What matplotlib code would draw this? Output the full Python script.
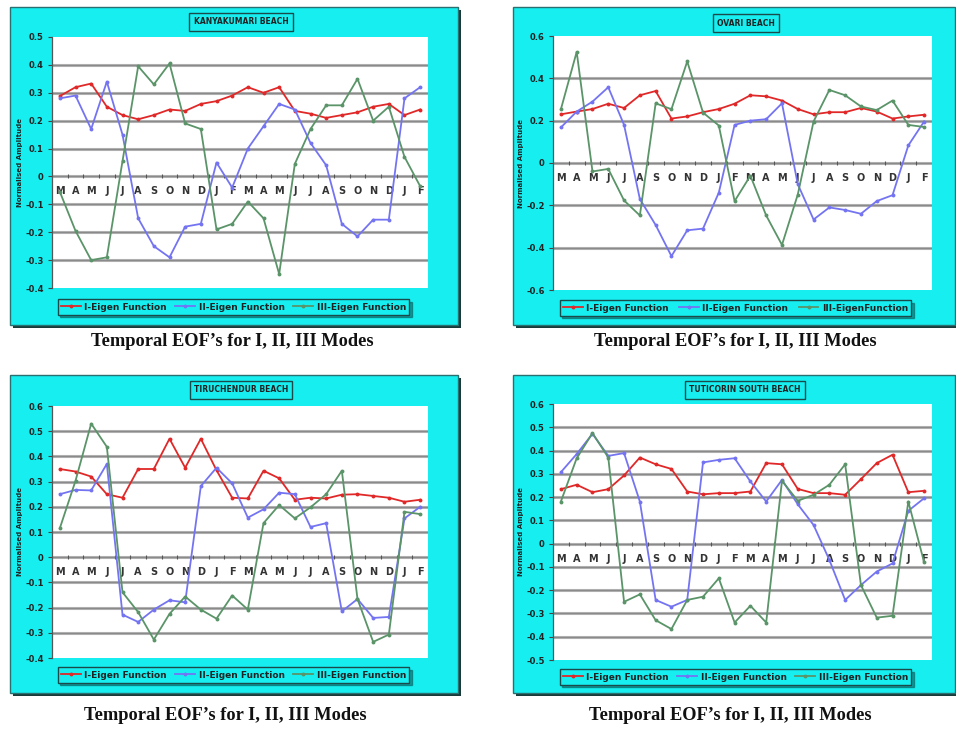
import matplotlib
matplotlib.use('Agg')
import matplotlib.pyplot as plt
from matplotlib.patches import Rectangle
import matplotlib.transforms as mtransforms
import numpy as np

W, H = 956, 729

months = ['M', 'A', 'M', 'J', 'J', 'A', 'S', 'O', 'N', 'D', 'J', 'F'] * 2

titles = ['KANYAKUMARI BEACH', 'OVARI BEACH', 'TIRUCHENDUR BEACH', 'TUTICORIN SOUTH BEACH']
legend_labels = [
    ['I-Eigen Function', 'II-Eigen Function', 'III-Eigen Function'],
    ['I-Eigen Function', 'II-Eigen Function', 'III-EigenFunction'],
    ['I-Eigen Function', 'II-Eigen Function', 'III-Eigen Function'],
    ['I-Eigen Function', 'II-Eigen Function', 'III-Eigen Function'],
]
caption = 'Temporal EOF\u2019s for I, II, III Modes'

# Kanyakumari beach
kany_I = [0.288, 0.32, 0.333, 0.25, 0.22, 0.205, 0.22, 0.24, 0.235, 0.26, 0.27, 0.29,
          0.32, 0.30, 0.32, 0.235, 0.225, 0.21, 0.22, 0.23, 0.25, 0.26, 0.22, 0.24]
kany_II = [0.28, 0.29, 0.17, 0.34, 0.15, -0.15, -0.25, -0.29, -0.18, -0.17, 0.05, -0.04,
           0.10, 0.18, 0.26, 0.24, 0.12, 0.04, -0.17, -0.215, -0.155, -0.155, 0.28, 0.32]
kany_III = [-0.055, -0.195, -0.30, -0.29, 0.055, 0.395, 0.33, 0.405, 0.19, 0.17, -0.19, -0.17,
            -0.09, -0.15, -0.35, 0.045, 0.17, 0.255, 0.255, 0.35, 0.20, 0.25, 0.07, -0.035]

# Ovari beach
ovari_I = [0.23, 0.243, 0.255, 0.28, 0.26, 0.32, 0.34, 0.21, 0.22, 0.24, 0.255, 0.28,
           0.32, 0.315, 0.295, 0.255, 0.23, 0.24, 0.24, 0.26, 0.243, 0.21, 0.22, 0.228]
ovari_II = [0.168, 0.243, 0.29, 0.358, 0.18, -0.17, -0.293, -0.44, -0.318, -0.31, -0.14, 0.18,
            0.20, 0.207, 0.282, -0.10, -0.267, -0.21, -0.222, -0.24, -0.18, -0.152, 0.083, 0.196]
ovari_III = [0.254, 0.525, -0.04, -0.028, -0.177, -0.248, 0.282, 0.254, 0.48, 0.238, 0.177, -0.18,
             -0.06, -0.248, -0.387, -0.149, 0.196, 0.345, 0.32, 0.267, 0.25, 0.295, 0.18, 0.17]

# Tiruchendur beach
tiru_I = [0.35, 0.34, 0.32, 0.25, 0.236, 0.35, 0.35, 0.47, 0.355, 0.47, 0.345, 0.236,
          0.233, 0.343, 0.313, 0.228, 0.236, 0.233, 0.248, 0.25, 0.243, 0.236, 0.22, 0.228]
tiru_II = [0.25, 0.267, 0.265, 0.37, -0.228, -0.257, -0.208, -0.171, -0.179, 0.282, 0.355, 0.293,
           0.157, 0.19, 0.256, 0.25, 0.12, 0.135, -0.215, -0.166, -0.241, -0.237, 0.154, 0.20]
tiru_III = [0.115, 0.303, 0.53, 0.438, -0.139, -0.218, -0.327, -0.225, -0.156, -0.208, -0.244, -0.152,
            -0.208, 0.135, 0.207, 0.154, 0.198, 0.25, 0.343, -0.166, -0.336, -0.307, 0.18, 0.171]

# Tuticorin south beach
tuti_I = [0.234, 0.253, 0.221, 0.234, 0.293, 0.37, 0.341, 0.321, 0.224, 0.212, 0.217, 0.217,
          0.224, 0.346, 0.341, 0.235, 0.217, 0.217, 0.21, 0.277, 0.346, 0.382, 0.221, 0.227]
tuti_II = [0.307, 0.385, 0.472, 0.377, 0.389, 0.181, -0.242, -0.271, -0.242, 0.349, 0.36, 0.367,
           0.267, 0.181, 0.274, 0.169, 0.08, -0.07, -0.242, -0.178, -0.12, -0.085, 0.141, 0.195]
tuti_III = [0.181, 0.367, 0.475, 0.37, -0.25, -0.218, -0.329, -0.367, -0.242, -0.228, -0.149, -0.339,
            -0.267, -0.339, 0.27, 0.184, 0.21, 0.253, 0.341, -0.178, -0.318, -0.31, 0.181, -0.08]

series = [
    (kany_I, kany_II, kany_III),
    (ovari_I, ovari_II, ovari_III),
    (tiru_I, tiru_II, tiru_III),
    (tuti_I, tuti_II, tuti_III),
]
ylims = [(-0.4, 0.5, 0.1), (-0.6, 0.6, 0.2), (-0.4, 0.6, 0.1), (-0.5, 0.6, 0.1)]

# layout in pixels (x0, y0, x1, y1), y from top
frames = [(10, 7, 458, 325), (513, 7, 955, 325), (10, 375, 458, 693), (513, 375, 955, 693)]
plots = [(52, 37, 428, 288), (553, 36, 932, 290), (52, 406, 428, 658), (553, 404, 932, 660)]
tboxes = [(241, 22), (746, 23), (241, 390), (745, 390)]
legends = [(53, 298, 414, 316), (555, 299, 916, 317), (53, 666, 414, 684), (555, 668, 916, 686)]
captions = [(232, 341), (735, 341), (225, 716), (730, 716)]
ylab_x = [20, 521, 20, 521]

CYAN = '#16EEF0'
RED = '#E02828'
BLUE = '#7474F2'
GREEN = '#5A9468'
colors = [RED, BLUE, GREEN]


def frect(x0, y0, x1, y1):
    return [x0 / W, 1 - y1 / H, (x1 - x0) / W, (y1 - y0) / H]


fig = plt.figure(figsize=(W / 100, H / 100), dpi=100)
fig.patch.set_facecolor('white')

for k in range(4):
    x0, y0, x1, y1 = frames[k]
    r = frect(x0 + 3, y0 + 3, x1 + 3, y1 + 3)
    fig.patches.append(Rectangle((r[0], r[1]), r[2], r[3], transform=fig.transFigure,
                                 facecolor='#1a3a3a', edgecolor='none', zorder=-3))
    r = frect(x0, y0, x1, y1)
    fig.patches.append(Rectangle((r[0], r[1]), r[2], r[3], transform=fig.transFigure,
                                 facecolor=CYAN, edgecolor='#2a7070', lw=1.0, zorder=-2))

    ax = fig.add_axes(frect(*plots[k]))
    ax.set_facecolor('white')
    lo, hi, step = ylims[k]
    ax.set_ylim(lo, hi)
    ax.set_xlim(-0.5, len(months) - 0.5)
    ticks = np.round(np.arange(lo, hi + step / 2, step), 2)
    ax.set_yticks(ticks)
    ax.set_yticklabels(['0' if abs(t) < 1e-9 else ('%g' % t) for t in ticks],
                       fontsize=6, fontweight='bold', color='#222222')
    ax.tick_params(axis='y', length=3, width=0.8, pad=3, color='#444444')
    ax.set_xticks([])
    for t in ticks:
        if lo < t < hi:
            ax.axhline(t, color='#b5b5b5', lw=2.2, zorder=1)
            ax.axhline(t, color='#8a8a8a', lw=0.9, zorder=1.1)
    for s in ['top', 'right', 'bottom']:
        ax.spines[s].set_visible(False)
    ax.spines['left'].set_color('#555555')
    ax.spines['left'].set_linewidth(0.9)

    xs = np.arange(len(months))
    ax.plot(xs[:-1] + 0.5, np.zeros(len(xs) - 1), ls='none', marker='|', ms=3,
            color='#555555', mew=0.8, zorder=2)
    off = mtransforms.offset_copy(ax.transData, fig=fig, x=0, y=-15, units='dots')
    for i, m in enumerate(months):
        ax.text(i, 0, m, transform=off, ha='center', va='center', fontsize=7,
                fontweight='bold', color='#333333', zorder=2)

    handles = []
    for j, ser in enumerate(series[k]):
        ln, = ax.plot(xs, ser, color=colors[j], lw=1.3, marker='o', ms=2.8,
                      markeredgewidth=0, zorder=3 + j * 0.1, label=legend_labels[k][j])
        handles.append(ln)

    lx0, ly0, lx1, ly1 = legends[k]
    lr = frect(lx0, ly0, lx1, ly1)
    leg = ax.legend(handles=handles, loc='center', bbox_to_anchor=(lr[0], lr[1], lr[2], lr[3]),
                    bbox_transform=fig.transFigure, mode='expand', ncol=3, fontsize=6.5,
                    frameon=True, fancybox=False, shadow=True, facecolor=CYAN,
                    edgecolor='#1a4a4a', handlelength=2.2, borderpad=0.35,
                    handletextpad=0.4, columnspacing=1.0)
    leg.get_frame().set_linewidth(1.0)
    for t in leg.get_texts():
        t.set_fontweight('bold')
        t.set_color('#222222')

    tx, ty = tboxes[k]
    fig.text(tx / W, 1 - ty / H, titles[k], ha='center', va='center', fontsize=5.5,
             fontweight='bold', color='#222222',
             bbox=dict(boxstyle='square,pad=0.55', facecolor=CYAN, edgecolor='#1a4a4a', lw=1.0))

    py0, py1 = plots[k][1], plots[k][3]
    fig.text(ylab_x[k] / W, 1 - (py0 + py1) / 2 / H, 'Normalised Amplitude', rotation=90,
             ha='center', va='center', fontsize=5, fontweight='bold', color='#222222')

    cx, cy = captions[k]
    fig.text(cx / W, 1 - cy / H, caption, ha='center', va='center', fontsize=13.2,
             fontweight='bold', family='Liberation Serif', color='#111111')

fig.savefig('out.png', dpi=100, facecolor='white')
